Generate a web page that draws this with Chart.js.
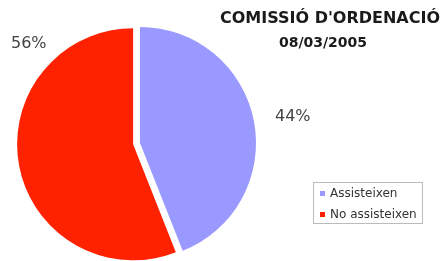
<!DOCTYPE html>
<html>
<head>
<meta charset="utf-8">
<script src="https://cdn.jsdelivr.net/npm/chart.js@4"></script>
<style>
  html, body { margin: 0; padding: 0; background: #fff; }
  #wrap { position: relative; width: 446px; height: 261px; overflow: hidden; }
  #chart { position: absolute; left: 0; top: 0; }
  .txt { position: absolute; font-family: "DejaVu Sans", sans-serif; color: #333; white-space: nowrap; }
  .title { font-weight: bold; color: #1a1a1a; text-align: center; width: 260px; }
  .pct { font-size: 16px; color: #444; }
  #legend { position: absolute; left: 313px; top: 182px; width: 108px; height: 40px; border: 1px solid #bbb; overflow: hidden; }
  .leg-row { position: absolute; left: 6px; font-family: "DejaVu Sans", sans-serif; font-size: 12px; color: #333; white-space: nowrap; }
  .leg-row i { display: inline-block; width: 5px; height: 5px; margin-right: 5px; vertical-align: 1px; }
</style>
</head>
<body>
<div id="wrap">
  <canvas id="chart" width="446" height="261"></canvas>
  <div class="txt title" style="top:8px; left:200px; font-size:16px">COMISSIÓ D'ORDENACIÓ</div>
  <div class="txt title" style="top:34px; left:193px; font-size:14px">08/03/2005</div>
  <div id="legend"></div>
</div>
<script>
const labels = ['Assisteixen', 'No assisteixen'];
const values = [44, 56];
const colors = ['#9999ff', '#ff2200'];
const explode = [0, 7];   // px the slice is pulled out along its middle angle
// label anchors (Excel places them by hand)
const labelPos = [[275, 106], [11, 33]];

const total = values.reduce((a, b) => a + b, 0);

// pull slices out without growing them (Chart.js offset also enlarges the arc)
const explodePlugin = {
    id: 'explode',
    afterDatasetUpdate(chart) {
        chart.getDatasetMeta(0).data.forEach((arc, i) => {
            if (!explode[i] || arc._wrapped) return;
            const draw = arc.draw.bind(arc);
            arc.draw = ctx => {
                const mid = (arc.startAngle + arc.endAngle) / 2;
                ctx.save();
                ctx.translate(Math.cos(mid) * explode[i], Math.sin(mid) * explode[i]);
                draw(ctx);
                ctx.restore();
            };
            arc._wrapped = true;
        });
    }
};

const chart = new Chart(document.getElementById('chart'), {
    type: 'pie',
    data: {
        labels: labels,
        datasets: [{
            data: values,
            backgroundColor: colors,
            borderWidth: 0
        }]
    },
    options: {
        responsive: false,
        animation: false,
        radius: 116,
        layout: { padding: { left: 0, right: 166, top: 25, bottom: 0 } },
        plugins: {
            legend: { display: false },
            tooltip: { enabled: false },
            title: { display: false }
        }
    },
    plugins: [explodePlugin]
});

// percentage labels
const wrap = document.getElementById('wrap');
values.forEach((v, i) => {
    const d = document.createElement('div');
    d.className = 'txt pct';
    d.textContent = Math.round(v / total * 100) + '%';
    d.style.left = labelPos[i][0] + 'px';
    d.style.top = labelPos[i][1] + 'px';
    wrap.appendChild(d);
});

// legend
document.getElementById('legend').innerHTML = labels.map((l, i) =>
    `<div class="leg-row" style="top:${3 + i * 21}px"><i style="background:${colors[i]}"></i>${l}</div>`
).join('');
</script>
</body>
</html>
